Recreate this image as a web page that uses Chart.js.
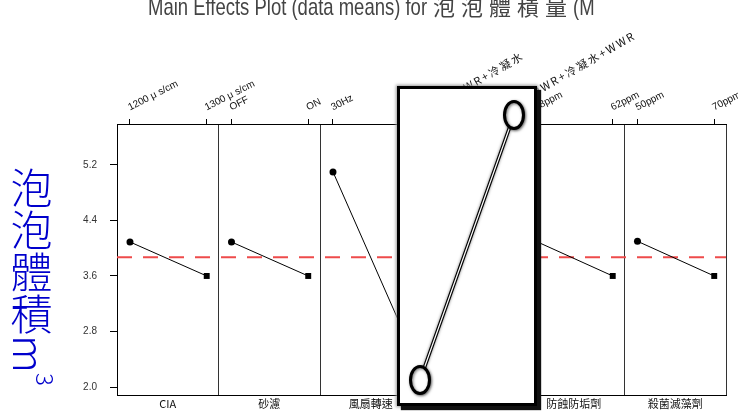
<!DOCTYPE html>
<html>
<head>
<meta charset="utf-8">
<script src="https://cdn.jsdelivr.net/npm/chart.js@4.4.0/dist/chart.umd.min.js"></script>
<style>
    body { margin: 0; background: #fff; }
    #wrap { position: relative; width: 738px; height: 420px; overflow: hidden; }
    #main { position: absolute; left: 0; top: 0; }
    #title { position: absolute; left: 148px; top: -11px; white-space: nowrap; color: #444;
             font-family: "Liberation Sans", Arial, sans-serif; font-size: 24px; }
    #title .lat { display: inline-block; transform: scaleX(0.77); transform-origin: 0 0; }
    #title .cjk { font-family: "Noto Sans CJK TC"; font-size: 22px; letter-spacing: 6px; }
    #ylab { position: absolute; left: 10px; top: 167px; writing-mode: vertical-rl; color: #0000cc;
            font-family: "Noto Sans CJK TC"; font-weight: 300; font-size: 42px; line-height: 42px; }
    #ylab sup { font-size: 24px; line-height: 0; }
    #zoomBox { position: absolute; left: 397px; top: 86px; width: 134px; height: 314px; background: #fff;
               border: 3px solid #000; box-shadow: 4px 4px 1px #111, 0 0 3px 1px #999; }
    #inset { position: absolute; left: 0; top: 0; }
</style>
</head>
<body>
<div id="wrap">
    <canvas id="main" width="738" height="420"></canvas>
    <div id="title"><span class="lat" style="width:285px">Main Effects Plot (data means) for</span><span class="cjk">泡泡體積量</span><span class="lat">(M</span></div>
    <div id="ylab">泡泡體積m<sup>3</sup></div>
    <div id="zoomBox"><canvas id="inset" width="134" height="314"></canvas></div>
</div>
<script>
const factors = ["CIA", "砂濾", "風扇轉速", "補水水源", "防蝕防垢劑", "殺菌滅藻劑"];
const lowLevels = ["1200 μ s/cm", "OFF", "30Hz", "UPWR+冷凝水", "38ppm", "50ppm"];
const highLevels = ["1300 μ s/cm", "ON", "60Hz", "UPWR+冷凝水+WWR", "62ppm", "70ppm"];
const lowMeans = [4.09, 4.09, 5.10, 2.60, 4.10, 4.10];
const highMeans = [3.60, 3.60, 2.59, 5.10, 3.60, 3.60];
const grandMean = 3.87;
const yTicks = [2.0, 2.8, 3.6, 4.4, 5.2];
const yMin = 1.885, yMax = 5.79;

// where the two levels sit inside one panel (panel width = 1)
const levelOffset = [0.128, 0.884];

const panels = factors.map(function(f, i) {
    return {
        data: [
            { x: i + levelOffset[0], y: lowMeans[i] },
            { x: i + levelOffset[1], y: highMeans[i] }
        ],
        showLine: true,
        borderColor: "#000",
        borderWidth: 1,
        pointStyle: ["circle", "rect"],
        pointRadius: [3.5, 4.2],
        pointBackgroundColor: "#000",
        pointBorderWidth: 0
    };
});
panels.push({
    data: [{ x: 0, y: grandMean }, { x: factors.length, y: grandMean }],
    showLine: true,
    borderColor: "#ee4b4b",
    borderWidth: 2,
    borderDash: [15, 11],
    pointRadius: 0
});

const topLabels = {
    id: "topLabels",
    afterDraw(chart) {
        const scale = chart.scales.xTop;
        const ctx = chart.ctx;
        scale.ticks.forEach(function(t, k) {
            const i = Math.floor(k / 2);
            const text = (k % 2) ? highLevels[i] : lowLevels[i];
            const cjk = /[\u4e00-\u9fff]/.test(text);
            ctx.save();
            ctx.translate(scale.getPixelForValue(t.value), scale.bottom - 13.5);
            ctx.rotate(-(cjk ? 30 : 27) * Math.PI / 180);
            ctx.fillStyle = "#111";
            ctx.font = cjk ? "11px 'Noto Sans CJK TC'" : "10px 'Liberation Sans'";
            ctx.letterSpacing = cjk ? "2px" : "0px";
            ctx.fillText(text, cjk ? 18 : 0, 0);
            ctx.restore();
        });
    }
};

new Chart(document.getElementById("main"), {
    type: "scatter",
    data: { datasets: panels },
    options: {
        responsive: false,
        devicePixelRatio: 1,
        animation: false,
        layout: { padding: { top: 114, left: 0, right: 12, bottom: 5 } },
        plugins: { legend: { display: false }, tooltip: { enabled: false } },
        scales: {
            x: {
                type: "linear", position: "bottom", min: 0, max: factors.length,
                afterBuildTicks: function(s) { s.ticks = factors.concat([""]).map(function(f, i) { return { value: i }; }); },
                afterFit: function(s) { s.height = 20; },
                grid: { drawOnChartArea: true, drawTicks: false, color: "#333", lineWidth: 1 },
                border: { display: true, color: "#000" },
                ticks: {
                    autoSkip: false, maxRotation: 0, minRotation: 0, labelOffset: 50.75, padding: 2,
                    color: "#111", font: { family: "Noto Sans CJK TC", size: 11 },
                    callback: function(v) { return factors[v] || ""; }
                }
            },
            xTop: {
                type: "linear", position: "top", min: 0, max: factors.length,
                afterBuildTicks: function(s) {
                    s.ticks = [];
                    factors.forEach(function(f, i) {
                        levelOffset.forEach(function(o) { s.ticks.push({ value: i + o }); });
                    });
                },
                afterFit: function(s) { s.height = 10; },
                grid: { drawOnChartArea: false, tickLength: 5, color: "#000" },
                border: { display: true, color: "#000" },
                ticks: { display: false }
            },
            y: {
                min: yMin, max: yMax,
                afterBuildTicks: function(s) { s.ticks = yTicks.map(function(v) { return { value: v }; }); },
                afterFit: function(s) { s.width = 117; },
                grid: { drawOnChartArea: false, tickLength: 7, color: "#000" },
                border: { display: true, color: "#000" },
                ticks: {
                    padding: 13, color: "#333", font: { family: "Liberation Sans", size: 10 },
                    callback: function(v) { return v.toFixed(1); }
                }
            }
        }
    },
    plugins: [topLabels]
});

// magnified inset: the hidden panel drawn large
const ellipse = document.createElement("canvas");
ellipse.width = 32;
ellipse.height = 40;
const ec = ellipse.getContext("2d");
ec.shadowColor = "rgba(0,0,0,0.55)";
ec.shadowBlur = 3;
ec.shadowOffsetX = 1;
ec.shadowOffsetY = 1;
ec.beginPath();
ec.ellipse(16, 20, 9.5, 13.5, 0, 0, Math.PI * 2);
ec.fillStyle = "#fff";
ec.fill();
ec.lineWidth = 3;
ec.strokeStyle = "#000";
ec.stroke();

const insetData = [{ x: 0, y: lowMeans[3] }, { x: 1, y: highMeans[3] }];
const glow = {
    id: "glow",
    beforeDatasetDraw(chart, args) {
        if (args.index === 2) {
            chart.ctx.save();
            chart.ctx.shadowColor = "rgba(0,0,0,0.5)";
            chart.ctx.shadowBlur = 3;
        }
    },
    afterDatasetDraw(chart, args) {
        if (args.index === 2) chart.ctx.restore();
    }
};

new Chart(document.getElementById("inset"), {
    type: "scatter",
    data: {
        datasets: [
            { data: insetData, showLine: false, pointStyle: ellipse, pointRadius: 14, clip: false },
            { data: insetData, showLine: true, borderColor: "#fff", borderWidth: 1.2, pointRadius: 0, clip: false },
            { data: insetData, showLine: true, borderColor: "#000", borderWidth: 3.6, pointRadius: 0, clip: false }
        ]
    },
    options: {
        responsive: false,
        devicePixelRatio: 1,
        animation: false,
        layout: { padding: { left: 20, right: 20, top: 26, bottom: 23 } },
        plugins: { legend: { display: false }, tooltip: { enabled: false } },
        scales: {
            x: { display: false, min: 0, max: 1 },
            y: { display: false, min: lowMeans[3], max: highMeans[3] }
        }
    },
    plugins: [glow]
});
</script>
</body>
</html>
